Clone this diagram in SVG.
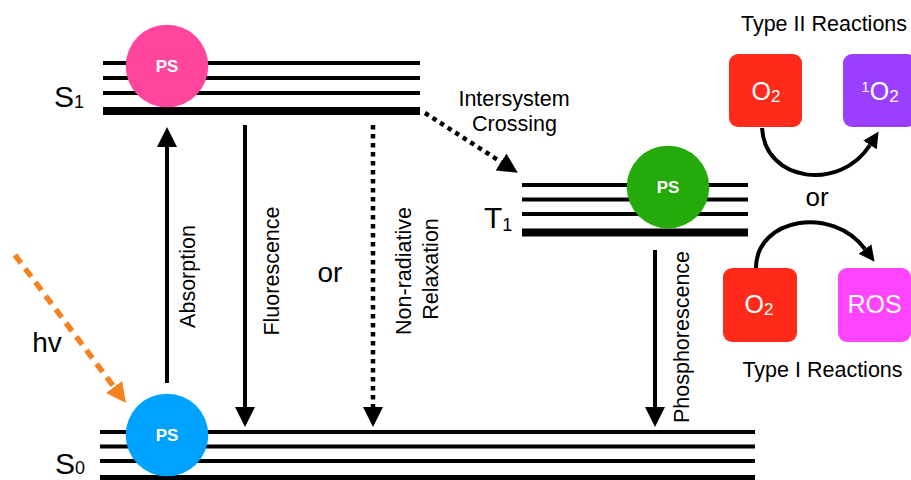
<svg xmlns="http://www.w3.org/2000/svg" width="911" height="480" viewBox="0 0 911 480">
<style>
.t{font-family:"Liberation Sans",Arial,sans-serif;fill:#000}
.lbl{font-size:21.5px}
.big{font-size:28px}
.lev{font-size:30px}
.sub{font-size:18px}
.ps{font-family:"Liberation Sans",Arial,sans-serif;font-size:17px;font-weight:bold;fill:#fff}
.bx{font-family:"Liberation Sans",Arial,sans-serif;font-size:25px;fill:#fff}
.thin{stroke:#000;stroke-width:4}
.thick{stroke:#000;stroke-width:8}
.arr{stroke:#000;stroke-width:4;fill:none}
.dot{stroke:#000;stroke-width:4.5;fill:none;stroke-dasharray:4.5 4.5}
</style>
<defs>
<marker id="ah" markerUnits="userSpaceOnUse" viewBox="0 0 20 20" refX="0" refY="10" markerWidth="20" markerHeight="20" orient="auto">
<path d="M0,0 L20,10 L0,20 z" fill="#000"/>
</marker>
<marker id="ahs" markerUnits="userSpaceOnUse" viewBox="0 0 16 16" refX="0" refY="8" markerWidth="16" markerHeight="16" orient="auto">
<path d="M0,0 L16,8 L0,16 z" fill="#000"/>
</marker>
<marker id="aho" markerUnits="userSpaceOnUse" viewBox="0 0 20 20" refX="0" refY="10" markerWidth="20" markerHeight="20" orient="auto">
<path d="M0,0 L20,10 L0,20 z" fill="#F5811F"/>
</marker>
</defs>

<g id="S1">
<line class="thin" x1="103" y1="63" x2="420" y2="63"/>
<line class="thin" x1="103" y1="78" x2="420" y2="78"/>
<line class="thin" x1="103" y1="93" x2="420" y2="93"/>
<line class="thick" x1="103" y1="111" x2="420" y2="111"/>
<text class="t lev" x="54" y="107">S<tspan class="sub" dy="1">1</tspan></text>
</g>

<g id="T1">
<line class="thin" x1="522" y1="185" x2="748" y2="185"/>
<line class="thin" x1="522" y1="199.5" x2="748" y2="199.5"/>
<line class="thin" x1="522" y1="214" x2="748" y2="214"/>
<line class="thick" x1="522" y1="232.5" x2="748" y2="232.5"/>
<text class="t lev" x="484" y="228">T<tspan class="sub" dy="3">1</tspan></text>
</g>

<g id="S0">
<line class="thin" x1="100" y1="432" x2="755" y2="432"/>
<line class="thin" x1="100" y1="446.5" x2="755" y2="446.5"/>
<line class="thin" x1="100" y1="461" x2="755" y2="461"/>
<rect x="100" y="475" width="655" height="10" fill="#000"/>
<text class="t lev" x="55" y="474">S<tspan class="sub">0</tspan></text>
</g>

<g id="PS_S1">
<circle cx="167" cy="66" r="41.3" fill="#FF469C"/>
<text class="ps" x="167" y="72" text-anchor="middle">PS</text>
</g>
<g id="PS_S0">
<circle cx="167" cy="435" r="41.3" fill="#00A2FF"/>
<text class="ps" x="167" y="441" text-anchor="middle">PS</text>
</g>
<g id="PS_T1">
<circle cx="668" cy="187" r="41.3" fill="#24AA0B"/>
<text class="ps" x="668" y="193" text-anchor="middle">PS</text>
</g>

<g id="O2_II">
<rect x="729" y="54" width="73" height="73" rx="9" fill="#FF2A19"/>
<text class="bx" x="766" y="100" text-anchor="middle">O<tspan font-size="17" dy="2">2</tspan></text>
</g>
<g id="singletO2">
<rect x="843" y="54" width="73" height="73" rx="9" fill="#9A3FFF"/>
<text class="bx" x="880" y="100" text-anchor="middle"><tspan font-size="15" dy="-8">1</tspan><tspan dy="8">O</tspan><tspan font-size="17" dy="2">2</tspan></text>
</g>
<g id="O2_I">
<rect x="723" y="268" width="74" height="74" rx="9" fill="#FF2A19"/>
<text class="bx" x="759" y="313" text-anchor="middle">O<tspan font-size="17" dy="2">2</tspan></text>
</g>
<g id="ROS">
<rect x="838" y="268" width="73" height="74" rx="9" fill="#FF44FF"/>
<text class="bx" x="874.5" y="313" text-anchor="middle">ROS</text>
</g>

<g id="connectors">
<line class="arr" x1="167" y1="383" x2="167" y2="147" marker-end="url(#ah)"/>
<line class="arr" x1="245" y1="125" x2="245" y2="407" marker-end="url(#ah)"/>
<line class="dot" x1="373" y1="125" x2="373" y2="407" marker-end="url(#ah)"/>
<line class="arr" x1="655" y1="250" x2="655" y2="407" marker-end="url(#ah)"/>
<line class="dot" x1="425" y1="113" x2="501" y2="162" marker-end="url(#ah)"/>
<line x1="15" y1="255" x2="114" y2="387" stroke="#F5811F" stroke-width="5.5" stroke-dasharray="10 7" marker-end="url(#aho)"/>
<path class="arr" d="M762,128 C765,182 840,192 870,145" marker-end="url(#ahs)"/>
<path class="arr" d="M756,268 C756,218 832,205 865,249" marker-end="url(#ahs)"/>
</g>

<g id="labels">
<text class="t lbl" x="195" y="276.5" text-anchor="middle" transform="rotate(-90 195 276.5)">Absorption</text>
<text class="t lbl" x="279" y="271" text-anchor="middle" transform="rotate(-90 279 271)">Fluorescence</text>
<text class="t lbl" x="410.5" y="271" text-anchor="middle" transform="rotate(-90 410.5 271)">Non-radiative</text>
<text class="t lbl" x="437.5" y="269" text-anchor="middle" transform="rotate(-90 437.5 269)">Relaxation</text>
<text class="t lbl" x="688.5" y="337" text-anchor="middle" transform="rotate(-90 688.5 337)">Phosphorescence</text>
<text class="t big" x="330" y="282" text-anchor="middle">or</text>
<text class="t big" x="47" y="352" text-anchor="middle">hv</text>
<text class="t lbl" x="514" y="105.5" text-anchor="middle">Intersystem</text>
<text class="t lbl" x="514.5" y="130.5" text-anchor="middle">Crossing</text>
<text class="t lbl" x="824" y="30.5" text-anchor="middle">Type II Reactions</text>
<text class="t lbl" x="822.5" y="377" text-anchor="middle">Type I Reactions</text>
<text class="t" font-size="26" x="817" y="206" text-anchor="middle">or</text>
</g>
</svg>
